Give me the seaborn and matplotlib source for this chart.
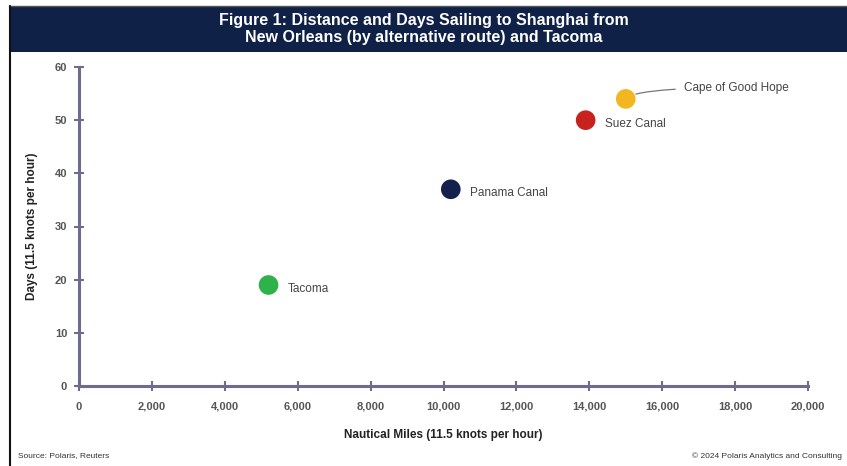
import matplotlib
matplotlib.use("Agg")
import matplotlib.pyplot as plt
import seaborn as sns
import pandas as pd
from matplotlib.patches import Rectangle
from matplotlib.lines import Line2D

routes = ["Tacoma", "Panama Canal", "Suez Canal", "Cape of Good Hope"]
miles = [5200, 10200, 13900, 15000]
days = [19, 37, 50, 54]
colors = ["#2DB34A", "#14214D", "#C8221E", "#F2B620"]
x_ticks = [0, 2000, 4000, 6000, 8000, 10000, 12000, 14000, 16000, 18000, 20000]
y_ticks = [0, 10, 20, 30, 40, 50, 60]

sns.set_theme(style="white")
plt.rcParams['font.family'] = ['Liberation Sans', 'DejaVu Sans']

df = pd.DataFrame({"route": routes, "miles": miles, "days": days})

fig = plt.figure(figsize=(8.47, 4.66), dpi=100)
ax = fig.add_axes([79/847, 1-386/466, (808-79)/847, (386-67)/466])

sns.scatterplot(data=df, x="miles", y="days", hue="route", palette=colors,
                s=200, edgecolor="none", legend=False, ax=ax, zorder=3)

ax.set_xlim(0, 20000)
ax.set_ylim(0, 60)
ax.set_xticks(x_ticks)
ax.set_xticklabels([f"{v:,}" for v in x_ticks])
ax.set_yticks(y_ticks)
ax.set_yticklabels([str(v) for v in y_ticks])

spine_col = "#6E6C8C"
for s in ["top", "right"]:
    ax.spines[s].set_visible(False)
for s in ["left", "bottom"]:
    ax.spines[s].set_color(spine_col)
    ax.spines[s].set_linewidth(2.2)
ax.tick_params(axis="both", direction="inout", length=7, width=1.5, color=spine_col,
               labelsize=8, labelcolor="#555555", bottom=True, left=True)
ax.tick_params(axis="x", pad=8)
ax.tick_params(axis="y", pad=5)
for lbl in ax.get_xticklabels() + ax.get_yticklabels():
    lbl.set_fontweight("bold")

ax.set_xlabel("Nautical Miles (11.5 knots per hour)", fontsize=8.5, fontweight="bold",
              color="#222222", labelpad=12)
ax.set_ylabel("Days (11.5 knots per hour)", fontsize=8.5, fontweight="bold",
              color="#222222", labelpad=12)

# labels
for r, x, y in zip(routes[:3], miles[:3], days[:3]):
    ax.annotate(r, (x, y), xytext=(14, -3), textcoords="offset points",
                fontsize=8.5, color="#444444", va="center", ha="left")
ax.annotate(routes[3], (miles[3], days[3]), xytext=(42, 8), textcoords="offset points",
            fontsize=8.5, color="#444444", va="center", ha="left",
            arrowprops=dict(arrowstyle="-", color="#777777", lw=0.9,
                            shrinkA=4, shrinkB=8,
                            connectionstyle="angle3,angleA=0,angleB=50"))

# header band and frame
navy = "#0F2147"
fig.patches.append(Rectangle((9/847, 1-52/466), 1-9/847, 45/466, transform=fig.transFigure,
                             facecolor=navy, edgecolor="none", zorder=0))
fig.lines.append(Line2D([9/847, 1], [1-6/466, 1-6/466], transform=fig.transFigure,
                        color="#555555", lw=1))
fig.lines.append(Line2D([9.5/847, 9.5/847], [0, 1-6/466], transform=fig.transFigure,
                        color="#111111", lw=1.5))
fig.text(0.5, 1-29/466, "Figure 1: Distance and Days Sailing to Shanghai from\nNew Orleans (by alternative route) and Tacoma",
         ha="center", va="center", color="white", fontsize=11.5, fontweight="bold",
         linespacing=1.15)

fig.text(18/847, 1-456/466, "Source: Polaris, Reuters", fontsize=6, color="#333333",
         ha="left", va="center")
fig.text(842/847, 1-456/466, "\u00a9 2024 Polaris Analytics and Consulting", fontsize=6,
         color="#333333", ha="right", va="center")

fig.savefig("out.png", dpi=100)
